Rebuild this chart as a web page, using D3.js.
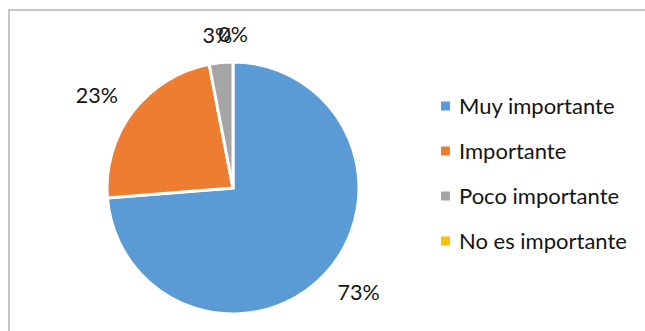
<!DOCTYPE html>
<html>
<head>
<meta charset="utf-8">
<script src="https://cdn.jsdelivr.net/npm/d3@7"></script>
<style>
  html, body { margin: 0; padding: 0; background: #fff; }
  svg { display: block; }
  text { font-family: Lato, "Open Sans", sans-serif; fill: #141414; }
</style>
</head>
<body>
<svg id="chart" width="645" height="331"></svg>
<script>
// Survey answers, share of respondents (%)
const categories = ["Muy importante", "Importante", "Poco importante", "No es importante"];
const values = [73, 23, 3, 0];
const colors = ["#5B9BD5", "#ED7D31", "#A5A5A5", "#FFC000"];

const width = 645, height = 331;
const svg = d3.select("#chart");

// Chart area frame (runs past the right and bottom edges)
svg.append("rect")
  .attr("x", 9).attr("y", 10)
  .attr("width", width + 20).attr("height", height + 20)
  .attr("fill", "#fff")
  .attr("stroke", "#c6c6c6")
  .attr("stroke-width", 2);

const cx = 233, cy = 188, R = 126;
const color = d3.scaleOrdinal().domain(categories).range(colors);

const data = categories.map((c, i) => ({ name: c, value: values[i] }));
const pie = d3.pie().sort(null).value(d => d.value);
const arcs = pie(data);
const arc = d3.arc().innerRadius(0).outerRadius(R);

const g = svg.append("g").attr("transform", `translate(${cx},${cy})`);

g.selectAll("path.slice")
  .data(arcs.filter(d => d.value > 0))
  .join("path")
  .attr("class", "slice")
  .attr("d", arc)
  .attr("fill", d => color(d.data.name))
  .attr("stroke", "#fff")
  .attr("stroke-width", 3)
  .attr("stroke-linejoin", "miter");

// Data labels outside the pie, each box pushed away along its slice bisector
const labelFont = 21.5;
const labelRx = 150, labelRy = 146;
const labels = g.selectAll("text.lbl")
  .data(arcs)
  .join("text")
  .attr("class", "lbl")
  .style("font-size", labelFont + "px")
  .attr("text-anchor", "middle")
  .text(d => d.data.value + "%");

labels.each(function(d) {
  const a = (d.startAngle + d.endAngle) / 2;
  const dx = Math.sin(a), dy = -Math.cos(a);
  const w = this.getComputedTextLength();
  const h = labelFont * 0.72;
  const x = labelRx * dx + dx * w / 2;
  const y = labelRy * dy + dy * h / 2;
  d3.select(this).attr("x", x).attr("y", y + h / 2);
});

// Legend
const legendX = 441, legendY0 = 106, legendStep = 45;
const legend = svg.append("g");
const items = legend.selectAll("g.item")
  .data(categories)
  .join("g")
  .attr("class", "item")
  .attr("transform", (d, i) => `translate(${legendX},${legendY0 + i * legendStep})`);

items.append("rect")
  .attr("x", 0).attr("y", -4.5)
  .attr("width", 9).attr("height", 9)
  .attr("fill", d => color(d));

items.append("text")
  .attr("x", 18)
  .attr("y", 7.8)
  .style("font-size", "22px")
  .text(d => d);
</script>
</body>
</html>
